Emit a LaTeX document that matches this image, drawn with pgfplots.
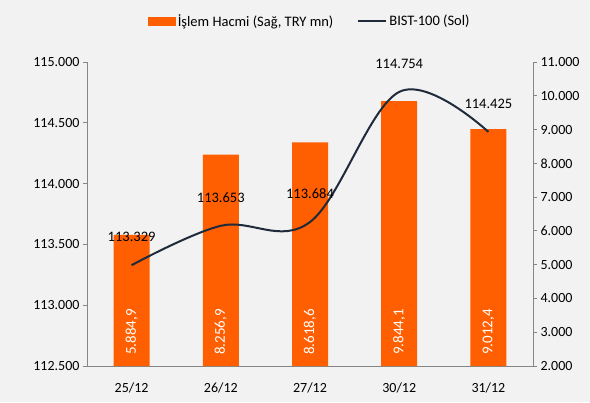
\documentclass[border=0pt]{standalone}
\usepackage{pgfplots}
\pgfplotsset{compat=1.18}
\usepackage{pgfplotstable}
\usepackage{fontspec}
\setmainfont{Carlito}
\definecolor{bg}{HTML}{F2F2F2}
\definecolor{barc}{HTML}{FF5F00}
\definecolor{lnc}{HTML}{1F2A3A}
\definecolor{axc}{HTML}{868686}
\pgfplotstableread{
x vol
0 5884.9
1 8256.9
2 8618.6
3 9844.1
4 9012.4
}\voltable
\pgfplotstableread{
x bist
0 113329
1 113653
2 113684
3 114754
4 114425
}\bisttable
\pgfplotsset{
  common/.style={
    at={(87bp,36bp)}, anchor=south west,
    scale only axis, width=446bp, height=304bp,
    xmin=-0.5, xmax=4.5,
    scaled ticks=false,
    axis line style={axc, line width=0.8pt},
    tick style={axc, line width=0.8pt},
    major tick length=4bp,
    tick align=outside,
    /pgf/number format/assume math mode=true,
    every tick label/.append style={font=\fontsize{14bp}{16bp}\selectfont, text=black},
  }
}
\begin{document}
\begin{tikzpicture}[x=1bp,y=1bp]
\fill[bg] (0,0) rectangle (590,402);
% right axis: bars
\begin{axis}[common,
  ymin=2000, ymax=11000, ytick={2000,3000,...,11000},
  axis y line*=right, axis x line*=bottom,
  xtick={0,1,2,3,4}, xticklabels={25/12,26/12,27/12,30/12,31/12},
  extra x ticks={-0.5,0.5,1.5,2.5,3.5,4.5}, extra x tick labels={},
  extra x tick style={tick align=inside, major tick length=4bp, tick style={axc, line width=0.8pt}},
  x tick style={draw=none},
  xticklabel style={yshift=-9bp},
  yticklabel style={/pgf/number format/.cd, 1000 sep={.}, fixed, fixed zerofill, precision=0},
]
\addplot[ybar, bar width=36bp, fill=barc, draw=none] table[x=x, y=vol] {\voltable};
\addplot[draw=none, mark=none, nodes near coords, point meta={\thisrow{vol}},
  nodes near coords style={anchor=west, rotate=90, inner xsep=11bp, inner ysep=0pt,
    text=white, font=\fontsize{15bp}{17bp}\selectfont,
    /pgf/number format/.cd, 1000 sep={.}, use comma, fixed, fixed zerofill, precision=1}]
  table[x=x, y expr=2000] {\voltable};
\end{axis}
% left axis: line
\begin{axis}[common,
  ymin=112500, ymax=115000, ytick={112500,113000,...,115000},
  axis y line*=left, axis x line=none,
  yticklabel style={/pgf/number format/.cd, 1000 sep={.}, fixed, precision=0},
  legend style={at={(0.5,1)}, anchor=south, yshift=30bp, draw=none, fill=none,
    font=\fontsize{14.5bp}{16bp}\selectfont, legend columns=2,
    /tikz/every even column/.append style={column sep=22bp}},
]
\addlegendimage{legend image code/.code={\fill[barc] (0bp,-4bp) rectangle (27bp,4bp);}}
\addlegendentry{İşlem Hacmi (Sağ, TRY mn)}
\addplot[lnc, line width=2bp, smooth, tension=0.6, mark=none,
  legend image code/.code={\draw[lnc, line width=2bp] (0bp,0bp) -- (28bp,0bp);},
  nodes near coords, point meta=y,
  nodes near coords style={anchor=south, yshift=19bp, text=black, font=\fontsize{14.5bp}{16bp}\selectfont,
    /pgf/number format/.cd, 1000 sep={.}, fixed, precision=0}]
  table[x=x, y=bist] {\bisttable};
\addlegendentry{BIST-100 (Sol)}
\end{axis}
\end{tikzpicture}
\end{document}
